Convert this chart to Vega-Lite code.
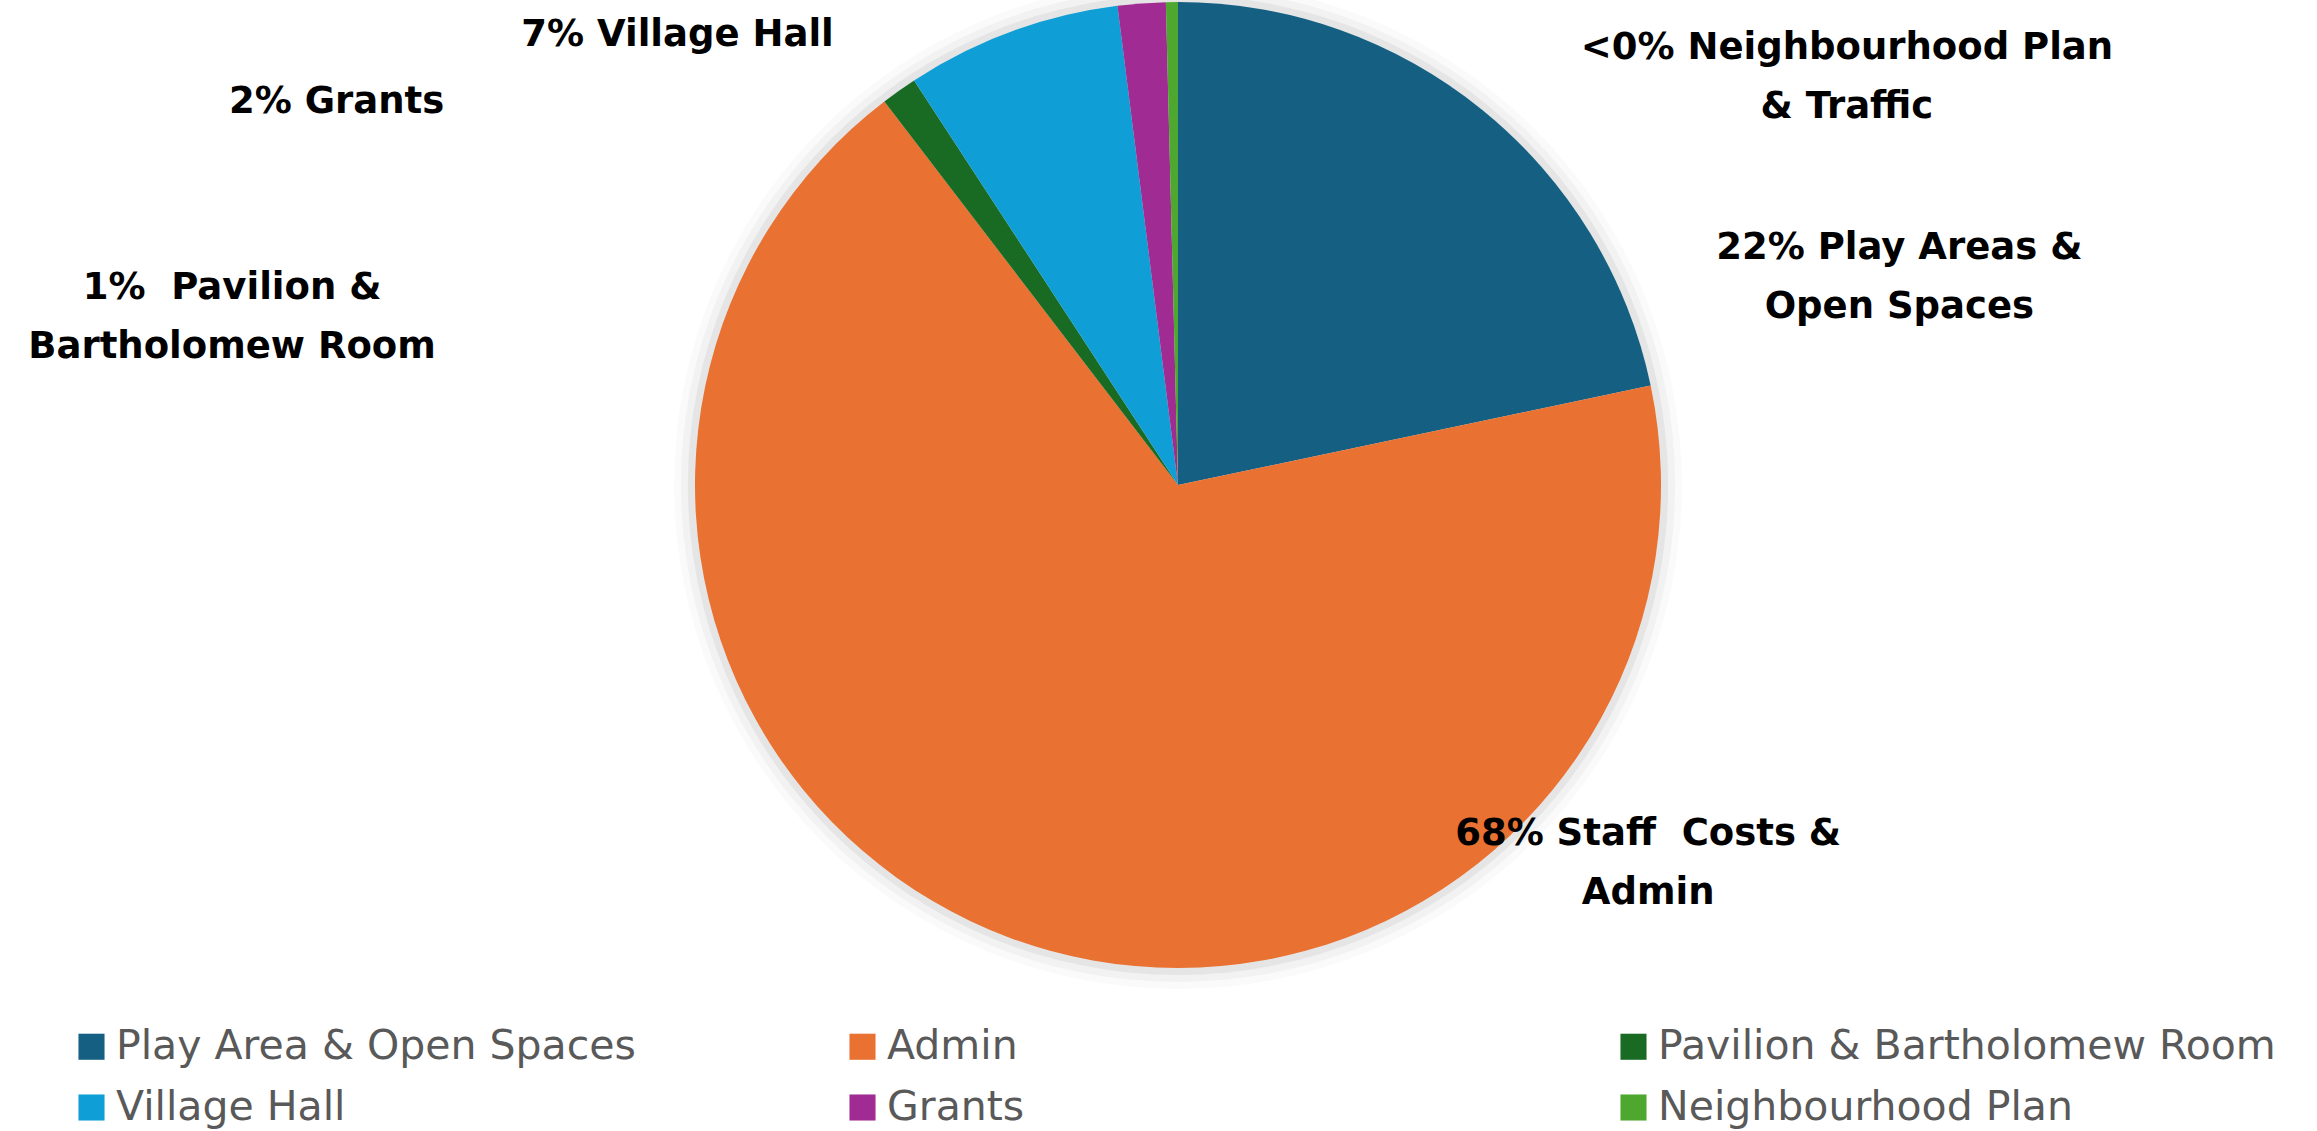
{
  "$schema": "https://vega.github.io/schema/vega-lite/v6.json",
  "width": 2276,
  "height": 970,
  "padding": {"left": 40, "top": 0, "right": 1, "bottom": 161},
  "autosize": {"type": "none"},
  "background": "white",
  "config": {"view": {"stroke": null}, "font": "DejaVu Sans"},
  "data": {"values": [
    {"idx": 1, "cat": "Play Area & Open Spaces", "value": 21.7, "label": "22% Play Areas &\nOpen Spaces"},
    {"idx": 2, "cat": "Admin", "value": 67.9, "label": "68% Staff \u00a0Costs &\nAdmin"},
    {"idx": 3, "cat": "Pavilion & Bartholomew Room", "value": 1.2, "label": "1% \u00a0Pavilion &\nBartholomew Room"},
    {"idx": 4, "cat": "Village Hall", "value": 7.2, "label": "7% Village Hall"},
    {"idx": 5, "cat": "Grants", "value": 1.6, "label": "2% Grants"},
    {"idx": 6, "cat": "Neighbourhood Plan", "value": 0.4, "label": "<0% Neighbourhood Plan\n& Traffic"}
  ]},
  "layer": [
    {"data": {"values": [{"s": 1}]}, "mark": {"type": "arc", "theta": 0, "theta2": 6.2832, "radius": 504, "fill": "#000000", "fillOpacity": 0.02}, "encoding": {}},
    {"data": {"values": [{"s": 1}]}, "mark": {"type": "arc", "theta": 0, "theta2": 6.2832, "radius": 497, "fill": "#000000", "fillOpacity": 0.03}, "encoding": {}},
    {"data": {"values": [{"s": 1}]}, "mark": {"type": "arc", "theta": 0, "theta2": 6.2832, "radius": 490, "fill": "#000000", "fillOpacity": 0.05}, "encoding": {}},
    {
      "mark": {"type": "arc", "radius": 483, "strokeWidth": 0},
      "encoding": {
        "theta": {"field": "value", "type": "quantitative", "stack": true},
        "order": {"field": "idx", "type": "quantitative"},
        "color": {
          "field": "cat", "type": "nominal",
          "scale": {
            "domain": ["Play Area & Open Spaces", "Admin", "Pavilion & Bartholomew Room", "Village Hall", "Grants", "Neighbourhood Plan"],
            "range": ["#156082", "#E97132", "#196B24", "#0F9ED5", "#A02B93", "#4EA72E"]
          },
          "legend": {
            "title": null, "orient": "none", "legendX": 31, "legendY": 1026, "direction": "horizontal",
            "columns": 3, "gridAlign": "all", "columnPadding": 108, "rowPadding": 19,
            "symbolType": "square", "symbolSize": 680, "symbolStrokeWidth": 0, "symbolOpacity": 1,
            "labelFont": "DejaVu Sans", "labelFontSize": 41, "labelColor": "#595959", "labelLimit": 1000, "labelOffset": 4
          }
        }
      }
    },
    {
      "mark": {"type": "text", "radius": 483, "dx": 417, "dy": 138, "font": "DejaVu Sans", "fontWeight": "bold", "fontSize": 37, "lineHeight": 59, "align": "center", "baseline": "middle", "lineBreak": "\n", "color": "#000000"},
      "encoding": {
        "theta": {"field": "value", "type": "quantitative", "stack": true},
        "order": {"field": "idx", "type": "quantitative"},
        "text": {"condition": {"test": "datum.idx === 1", "field": "label", "type": "nominal"}, "value": ""}
      }
    },
    {
      "mark": {"type": "text", "radius": 483, "dx": 638, "dy": -104, "font": "DejaVu Sans", "fontWeight": "bold", "fontSize": 37, "lineHeight": 59, "align": "center", "baseline": "middle", "lineBreak": "\n", "color": "#000000"},
      "encoding": {
        "theta": {"field": "value", "type": "quantitative", "stack": true},
        "order": {"field": "idx", "type": "quantitative"},
        "text": {"condition": {"test": "datum.idx === 2", "field": "label", "type": "nominal"}, "value": ""}
      }
    },
    {
      "mark": {"type": "text", "radius": 483, "dx": -667, "dy": 197, "font": "DejaVu Sans", "fontWeight": "bold", "fontSize": 37, "lineHeight": 59, "align": "center", "baseline": "middle", "lineBreak": "\n", "color": "#000000"},
      "encoding": {
        "theta": {"field": "value", "type": "quantitative", "stack": true},
        "order": {"field": "idx", "type": "quantitative"},
        "text": {"condition": {"test": "datum.idx === 3", "field": "label", "type": "nominal"}, "value": ""}
      }
    },
    {
      "mark": {"type": "text", "radius": 483, "dx": -334, "dy": 3, "font": "DejaVu Sans", "fontWeight": "bold", "fontSize": 37, "lineHeight": 59, "align": "center", "baseline": "middle", "lineBreak": "\n", "color": "#000000"},
      "encoding": {
        "theta": {"field": "value", "type": "quantitative", "stack": true},
        "order": {"field": "idx", "type": "quantitative"},
        "text": {"condition": {"test": "datum.idx === 4", "field": "label", "type": "nominal"}, "value": ""}
      }
    },
    {
      "mark": {"type": "text", "radius": 483, "dx": -805, "dy": 99, "font": "DejaVu Sans", "fontWeight": "bold", "fontSize": 37, "lineHeight": 59, "align": "center", "baseline": "middle", "lineBreak": "\n", "color": "#000000"},
      "encoding": {
        "theta": {"field": "value", "type": "quantitative", "stack": true},
        "order": {"field": "idx", "type": "quantitative"},
        "text": {"condition": {"test": "datum.idx === 5", "field": "label", "type": "nominal"}, "value": ""}
      }
    },
    {
      "mark": {"type": "text", "radius": 483, "dx": 675, "dy": 46, "font": "DejaVu Sans", "fontWeight": "bold", "fontSize": 37, "lineHeight": 59, "align": "center", "baseline": "middle", "lineBreak": "\n", "color": "#000000"},
      "encoding": {
        "theta": {"field": "value", "type": "quantitative", "stack": true},
        "order": {"field": "idx", "type": "quantitative"},
        "text": {"condition": {"test": "datum.idx === 6", "field": "label", "type": "nominal"}, "value": ""}
      }
    }
  ]
}
